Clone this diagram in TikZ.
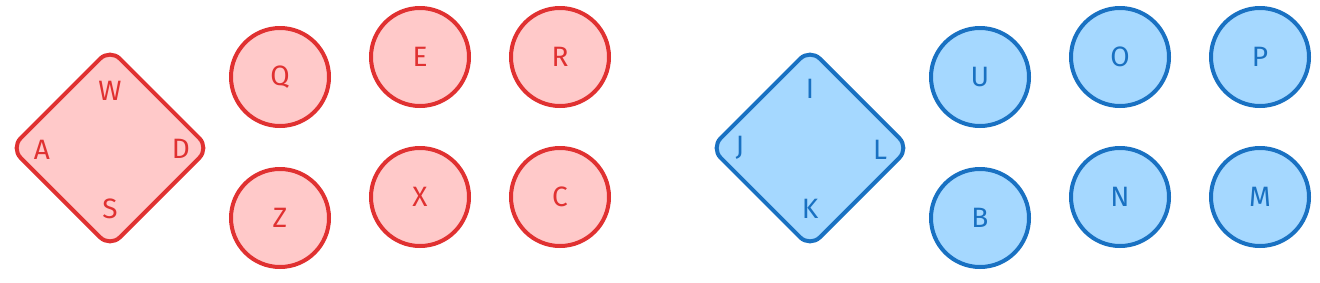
\documentclass[tikz,border=0pt]{standalone}
\usepackage{fontspec}
\setmainfont{Fira Sans}
\usetikzlibrary{shapes.geometric}
\definecolor{rstroke}{HTML}{E03131}
\definecolor{rfill}{HTML}{FFC9C9}
\definecolor{bstroke}{HTML}{1971C2}
\definecolor{bfill}{HTML}{A5D8FF}
\tikzset{
  key/.style={circle, draw, line width=4pt, minimum size=98pt, inner sep=0pt, font=\fontsize{28}{32}\selectfont},
  pad/.style={diamond, draw, line width=4pt, minimum width=200pt, minimum height=200pt, inner sep=0pt, rounded corners=14pt},
  lbl/.style={inner sep=0pt, font=\fontsize{28}{32}\selectfont},
  red/.style={draw=rstroke, fill=rfill, text=rstroke},
  blue/.style={draw=bstroke, fill=bfill, text=bstroke},
}
\begin{document}
\begin{tikzpicture}[x=1pt,y=-1pt]
\useasboundingbox (0,0) rectangle (1320,282);
% red group
\node[pad, red] (dpadL) at (110,148) {};
\node[lbl, text=rstroke] (w) at (110,91) {W};
\node[lbl, text=rstroke] (a) at (42,150) {A};
\node[lbl, text=rstroke] (d) at (181,149) {D};
\node[lbl, text=rstroke] (s) at (110,209) {S};
\node[key, red] (q) at (280,77) {Q};
\node[key, red] (e) at (420,57) {E};
\node[key, red] (r) at (560,57) {R};
\node[key, red] (z) at (280,218) {Z};
\node[key, red] (x) at (420,197) {X};
\node[key, red] (c) at (560,197) {C};
% blue group
\node[pad, blue] (dpadR) at (810,148) {};
\node[lbl, text=bstroke] (i) at (810,89) {I};
\node[lbl, text=bstroke] (j) at (740,148) {J};
\node[lbl, text=bstroke] (l) at (880,150) {L};
\node[lbl, text=bstroke] (k) at (810,209) {K};
\node[key, blue] (u) at (980,77) {U};
\node[key, blue] (o) at (1120,57) {O};
\node[key, blue] (p) at (1260,57) {P};
\node[key, blue] (b) at (980,218) {B};
\node[key, blue] (n) at (1120,197) {N};
\node[key, blue] (m) at (1260,197) {M};
\end{tikzpicture}
\end{document}
